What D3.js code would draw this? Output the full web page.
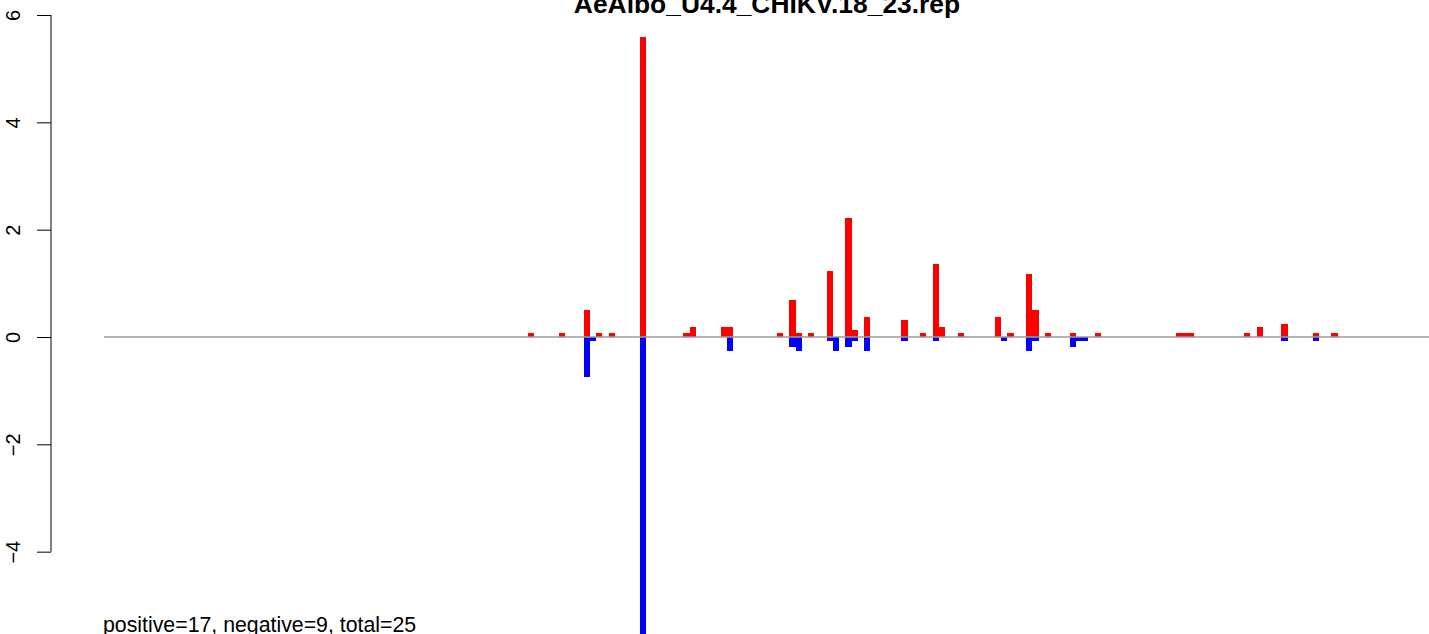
<!DOCTYPE html>
<html>
<head>
<meta charset="utf-8">
<script src="https://cdn.jsdelivr.net/npm/d3@7"></script>
<style>
  html, body { margin: 0; padding: 0; background: #fff; }
  svg { display: block; font-family: "Liberation Sans", Arial, Helvetica, sans-serif; }
</style>
</head>
<body>
<svg id="chart" width="1429" height="634"></svg>
<script>
// ---- data ----
const titleText = "AeAlbo_U4.4_CHIKV.18_23.rep";
const summaryText = "positive=17, negative=9, total=25";
const yTicks = [-4, -2, 0, 2, 4, 6];

// sequence positions with positive-strand values
const positivePositions = [69, 74, 78, 80, 82, 87, 94, 95, 100, 101, 109, 111, 112, 114, 117, 120, 121, 123,
  129, 132, 134, 135, 138, 144, 146, 149, 150, 152, 156, 160, 173, 174, 175, 184, 186, 190, 195, 198];
const positiveValues = [0.075, 0.075, 0.5, 0.075, 0.075, 5.59, 0.075, 0.186, 0.186, 0.186, 0.075, 0.69, 0.075, 0.075, 1.23, 2.22, 0.13, 0.37,
  0.32, 0.075, 1.36, 0.186, 0.075, 0.37, 0.075, 1.17, 0.5, 0.075, 0.075, 0.075, 0.075, 0.075, 0.075, 0.075, 0.186, 0.24, 0.075, 0.075];

// sequence positions with negative-strand values
const negativePositions = [78, 79, 87, 101, 111, 112, 117, 118, 120, 121, 123, 129, 134, 145, 149, 150, 156, 157, 158, 190, 195];
const negativeValues = [-0.745, -0.075, -5.59, -0.255, -0.18, -0.255, -0.07, -0.255, -0.18, -0.07, -0.255, -0.07, -0.07, -0.07, -0.255, -0.07, -0.18, -0.07, -0.07, -0.07, -0.07];

const seqStart = 1, seqEnd = 214;

// ---- layout ----
const svg = d3.select("#chart");
const x = d3.scaleLinear().domain([seqStart, seqEnd]).range([104, 104 + 213 * 6.23]);
const y = d3.scaleLinear().domain([0, 6]).range([337, 15]);

const posData = positivePositions.map((p, i) => ({ p, v: positiveValues[i] }));
const negData = negativePositions.map((p, i) => ({ p, v: negativeValues[i] }));

svg.append("g").selectAll("rect").data(posData).join("rect")
  .attr("x", d => x(d.p))
  .attr("width", d => x(d.p + 1) - x(d.p))
  .attr("y", d => y(d.v))
  .attr("height", d => y(0) - y(d.v))
  .attr("fill", "#ff0000")
  .attr("shape-rendering", "crispEdges");

svg.append("g").selectAll("rect").data(negData).join("rect")
  .attr("x", d => x(d.p))
  .attr("width", d => x(d.p + 1) - x(d.p))
  .attr("y", y(0))
  .attr("height", d => y(d.v) - y(0))
  .attr("fill", "#0000ff")
  .attr("shape-rendering", "crispEdges");

// zero line
svg.append("line")
  .attr("x1", x(seqStart)).attr("x2", x(seqEnd))
  .attr("y1", y(0)).attr("y2", y(0))
  .attr("stroke", "#9a9a9a").attr("stroke-width", 1.5);

// y axis
const axisX = 51;
const yAxis = d3.axisLeft(y).tickValues(yTicks).tickSize(14).tickFormat(d => d < 0 ? "\u2212" + Math.abs(d) : String(d));
const ag = svg.append("g").attr("transform", `translate(${axisX},0)`).call(yAxis);
ag.select(".domain").remove();
ag.append("line").attr("x1", 0).attr("x2", 0)
  .attr("y1", y(d3.min(yTicks))).attr("y2", y(d3.max(yTicks)))
  .attr("stroke", "#000").attr("stroke-width", 1);
ag.selectAll(".tick line").attr("stroke", "#000").attr("stroke-width", 1);
ag.selectAll(".tick text")
  .attr("x", null).attr("dy", null)
  .attr("transform", "translate(-31,0) rotate(-90)")
  .attr("text-anchor", "middle")
  .attr("fill", "#000")
  .style("font-size", "20px")
  .style("font-family", "'Liberation Sans', Arial, sans-serif");

// title (partly cut off at top, as in the reference)
svg.append("text")
  .attr("x", 767).attr("y", 13)
  .attr("text-anchor", "middle")
  .style("font-weight", "bold")
  .style("font-size", "26.4px")
  .text(titleText);

// summary text
svg.append("text")
  .attr("x", 103).attr("y", 632)
  .style("font-size", "21.3px")
  .text(summaryText);
</script>
</body>
</html>
